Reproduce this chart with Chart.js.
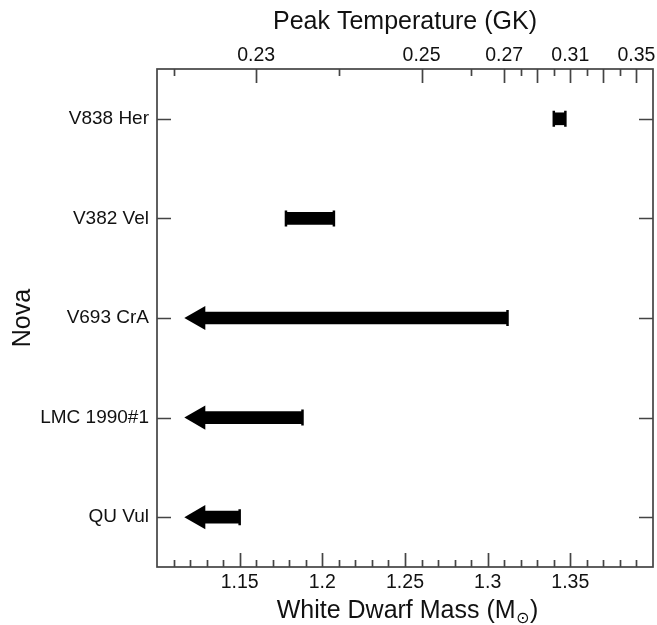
<!DOCTYPE html>
<html>
<head>
<meta charset="utf-8">
<script src="https://cdn.jsdelivr.net/npm/chart.js@4/dist/chart.umd.min.js"></script>
<style>
  html, body { margin: 0; padding: 0; background: #ffffff; }
  #wrap { width: 657px; height: 625px; position: relative; }
</style>
</head>
<body>
<div id="wrap"><canvas id="c" width="657" height="625"></canvas></div>
<script>
// ---- data ----
const novae = ['V838 Her', 'V382 Vel', 'V693 CrA', 'LMC 1990#1', 'QU Vul'];
const massLow = [1.340, 1.178, null, null, null];      // null = upper limit only
const massHigh = [1.347, 1.207, 1.312, 1.188, 1.150];
const upperLimit = [false, false, true, true, true];
const arrowHeadMass = 1.125;                            // where the limit arrows point to

const massTicks = [1.10, 1.15, 1.20, 1.25, 1.30, 1.35, 1.40];
const massTickLabels = ['', '1.15', '1.2', '1.25', '1.3', '1.35', ''];

const tempTicks = [0.22, 0.23, 0.24, 0.25, 0.26, 0.27, 0.28, 0.29, 0.30, 0.31, 0.32, 0.33, 0.34, 0.35];
const tempTickMass = [1.110, 1.160, 1.210, 1.260, 1.290, 1.310, 1.320, 1.330, 1.340, 1.350, 1.360, 1.370, 1.380, 1.390];
const tempLabeled = ['0.23', '0.25', '0.27', '0.31', '0.35'];
const tempMajor = [0.23, 0.25, 0.27, 0.29, 0.31, 0.33, 0.35];

// ---- derived datasets ----
const barData = novae.map((n, i) => [upperLimit[i] ? arrowHeadMass : massLow[i], massHigh[i]]);
const arrowData = novae.map((n, i) => upperLimit[i] ? { x: arrowHeadMass, y: n } : null).filter(Boolean);
const capData = [];
novae.forEach((n, i) => {
  capData.push({ x: massHigh[i], y: n });
  if (!upperLimit[i]) capData.push({ x: massLow[i], y: n });
});

const FONT = "'Liberation Sans', Arial, Helvetica, sans-serif";
const FRAME = '#444444';

const framePlugin = {
  id: 'frameTicks',
  afterDraw(chart) {
    const ctx = chart.ctx;
    const a = chart.chartArea;
    const xs = chart.scales.x, xt = chart.scales.x2, ys = chart.scales.y;
    ctx.save();
    ctx.strokeStyle = FRAME;
    ctx.lineWidth = 1.7;
    ctx.strokeRect(a.left, a.top, a.right - a.left, a.bottom - a.top);
    ctx.beginPath();
    // bottom ticks: major every 0.05, minor every 0.01
    for (let i = 1; i < 30; i++) {
      const v = 1.10 + i * 0.01;
      const x = Math.round(xs.getPixelForValue(v)) + 0.5;
      const len = (i % 5 === 0) ? 14 : 7;
      ctx.moveTo(x, a.bottom);
      ctx.lineTo(x, a.bottom - len);
    }
    // top ticks (temperature)
    tempTicks.forEach((t, i) => {
      const x = Math.round(xt.getPixelForValue(tempTickMass[i])) + 0.5;
      const major = tempMajor.some(m => Math.abs(m - t) < 1e-6);
      ctx.moveTo(x, a.top);
      ctx.lineTo(x, a.top + (major ? 14 : 7));
    });
    // left/right category ticks
    novae.forEach((n, i) => {
      const y = Math.round(ys.getPixelForValue(i)) + 0.5;
      ctx.moveTo(a.left, y); ctx.lineTo(a.left + 14, y);
      ctx.moveTo(a.right, y); ctx.lineTo(a.right - 14, y);
    });
    ctx.stroke();

    // bottom axis title with subscript
    const cx = (a.left + a.right) / 2 + 2;
    const by = 618;
    const main = 'White Dwarf Mass (M';
    const sub = '\u2299';
    const close = ')';
    ctx.fillStyle = '#111';
    ctx.textBaseline = 'alphabetic';
    ctx.textAlign = 'left';
    const fMain = '25px ' + FONT;
    const fSub = '16px DejaVu Sans, ' + FONT;
    ctx.font = fMain;
    const w1 = ctx.measureText(main).width;
    const w3 = ctx.measureText(close).width;
    ctx.font = fSub;
    const w2 = ctx.measureText(sub).width;
    let x0 = cx - (w1 + w2 + w3) / 2;
    ctx.font = fMain;
    ctx.fillText(main, x0, by);
    ctx.font = fSub;
    ctx.fillText(sub, x0 + w1 + 0.5, by + 5);
    ctx.font = fMain;
    ctx.fillText(close, x0 + w1 + w2 + 1, by);
    ctx.restore();
  }
};

const noPad = s => { s.paddingLeft = 0; s.paddingRight = 0; };

new Chart(document.getElementById('c'), {
  type: 'bar',
  data: {
    labels: novae,
    datasets: [
      {
        type: 'bar',
        data: barData,
        backgroundColor: '#000',
        borderWidth: 0,
        borderSkipped: false,
        barThickness: 12,
        xAxisID: 'x', yAxisID: 'y',
        order: 3
      },
      {
        type: 'scatter',
        data: capData,
        pointStyle: 'line',
        rotation: 90,
        radius: 8,
        borderColor: '#000',
        borderWidth: 2.5,
        xAxisID: 'x', yAxisID: 'y',
        order: 2
      },
      {
        type: 'scatter',
        data: arrowData,
        pointStyle: 'triangle',
        rotation: -90,
        radius: 14,
        backgroundColor: '#000',
        borderColor: '#000',
        borderWidth: 0,
        xAxisID: 'x', yAxisID: 'y',
        order: 1
      }
    ]
  },
  options: {
    indexAxis: 'y',
    responsive: false,
    animation: false,
    layout: { autoPadding: false, padding: { left: 0, right: 4, top: 0, bottom: 0 } },
    plugins: { legend: { display: false }, tooltip: { enabled: false }, title: { display: false } },
    scales: {
      x: {
        type: 'linear', position: 'bottom', min: 1.10, max: 1.40,
        afterBuildTicks: s => { s.ticks = massTicks.map(v => ({ value: v })); },
        afterFit: s => { s.height = 58; noPad(s); },
        grid: { display: false, drawTicks: false },
        border: { display: false },
        ticks: {
          autoSkip: false, maxRotation: 0, padding: 4,
          color: '#111', font: { family: FONT, size: 19.5 },
          callback: (v, i) => massTickLabels[i]
        }
      },
      x2: {
        type: 'linear', position: 'top', min: 1.10, max: 1.40,
        afterBuildTicks: s => { s.ticks = tempTickMass.map(v => ({ value: v })); },
        afterFit: s => { s.height = 69; noPad(s); },
        grid: { display: false, drawTicks: false },
        border: { display: false },
        ticks: {
          autoSkip: false, maxRotation: 0, padding: 2,
          color: '#111', font: { family: FONT, size: 19.5 },
          callback: (v, i) => {
            const t = tempTicks[i].toFixed(2);
            return tempLabeled.includes(t) ? t : '';
          }
        },
        title: {
          display: true, text: 'Peak Temperature (GK)', color: '#111',
          font: { family: FONT, size: 25 }, padding: { top: 7, bottom: 0 }
        }
      },
      y: {
        type: 'category', position: 'left', offset: true,
        afterFit: s => { s.width = 157; s.paddingTop = 0; s.paddingBottom = 0; },
        grid: { display: false, drawTicks: false },
        border: { display: false },
        ticks: { padding: 8, color: '#111', font: { family: FONT, size: 19 } },
        title: {
          display: true, text: 'Nova', color: '#111',
          font: { family: FONT, size: 25 }, padding: { top: 8, bottom: 0 }
        }
      }
    }
  },
  plugins: [framePlugin]
});
</script>
</body>
</html>
